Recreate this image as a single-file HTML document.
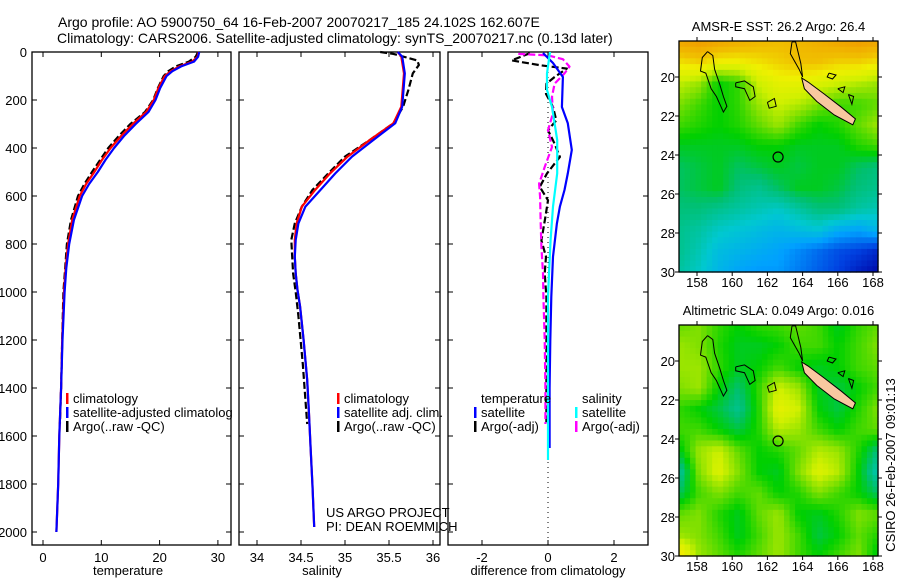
<!DOCTYPE html>
<html><head><meta charset="utf-8">
<style>
body{margin:0;background:#fff;}
svg{display:block;font-family:"Liberation Sans",sans-serif;}
</style></head>
<body>
<svg id="c" width="900" height="580" viewBox="0 0 900 580">
<text x="58" y="27" font-size="14">Argo profile: AO 5900750_64 16-Feb-2007 20070217_185 24.102S 162.607E</text>
<text x="57" y="43" font-size="14">Climatology: CARS2006. Satellite-adjusted climatology: synTS_20070217.nc (0.13d later)</text>
</svg>
<script>
// ---- profile data ----
const depthT = [0,20,40,60,80,100,150,200,250,300,350,400,450,500,550,600,700,800,900,1000,1200,1400,1600,1800,2000];
const tempClim = [26.7,26.5,25.6,23.4,21.9,20.9,19.8,19.0,17.7,15.4,13.4,11.6,10.1,8.8,7.4,6.3,5.0,4.3,3.9,3.6,3.3,3.1,2.8,2.6,2.3];
const tempSat  = [26.8,26.6,25.9,23.7,22.2,21.2,20.1,19.3,18.1,15.9,13.9,12.2,10.7,9.4,7.9,6.7,5.3,4.5,4.0,3.7,3.35,3.1,2.8,2.6,2.3];
const depthArgo = [0,20,40,60,80,100,150,200,250,300,350,400,450,500,550,600,700,800,900,1000,1200,1400,1550];
const tempArgo = [26.6,26.2,25.0,22.8,21.5,20.7,19.7,18.9,17.5,15.0,13.0,11.2,9.8,8.4,7.1,6.0,4.8,4.1,3.8,3.5,3.3,3.1,2.9];

const depthS = [0,19,89,228,297,367,436,506,575,644,714,783,853,922,992,1061,1200,1367,1500,1658,1800,1979];
const salSat  = [35.60,35.65,35.68,35.65,35.57,35.32,35.08,34.89,34.72,34.55,34.47,34.44,34.43,34.44,34.46,34.49,34.53,34.57,34.59,34.61,34.63,34.65];
const salClim = [35.60,35.64,35.67,35.64,35.55,35.28,35.03,34.83,34.66,34.51,34.45,34.43,34.43,34.44,34.46,34.49,34.53,34.57,34.59,34.61,34.63,34.65];
const depthSA = [0,8,35,54,89,158,228,297,367,436,506,575,644,714,783,853,922,1000,1100,1300,1550];
const salArgo = [35.40,35.55,35.82,35.84,35.77,35.72,35.66,35.55,35.28,35.00,34.81,34.63,34.51,34.43,34.39,34.40,34.41,34.44,34.47,34.52,34.57];

const depthD = [4,46,104,229,297,408,506,575,644,714,853,1020,1200,1400,1650];
const diffTSat = [-0.15,0.15,0.45,0.42,0.60,0.72,0.60,0.50,0.36,0.27,0.15,0.10,0.07,0.05,0.05];
const depthDS = [0,89,158,229,297,367,506,644,783,922,1020,1200,1400,1700];
const diffSSat = [0.06,-0.03,-0.03,0.12,0.20,0.28,0.28,0.15,0.08,0.03,0.0,0.0,0.0,0.0];
const depthDA = [5,35,55,69,104,132,174,229,285,326,382,437,506,562,618,687,785,853,922,1020,1200,1400,1550];
const diffTArgo = [-0.55,-1.1,-0.25,0.57,0.2,-0.05,-0.06,0.15,0.25,0.0,0.2,0.36,-0.03,-0.25,0.0,-0.08,-0.2,-0.06,-0.1,-0.05,-0.05,-0.05,-0.05];
const depthDM = [8,14,30,61,89,132,186,255,326,396,479,549,604,714,811,922,1020,1200,1400,1550];
const diffSArgo = [-0.9,0.0,0.45,0.65,0.5,0.2,0.12,0.15,0.0,0.12,-0.1,-0.27,-0.24,-0.22,-0.2,-0.15,-0.14,-0.1,-0.08,-0.08];

const depthTicks = [0,200,400,600,800,1000,1200,1400,1600,1800,2000];
const tempTicks = [0,10,20,30];
const salTicks = [34,34.5,35,35.5,36];
const diffTicks = [-2,0,2];
const lonTicks = [158,160,162,164,166,168];
const latTicks = [-20,-22,-24,-26,-28,-30];

// ---- map grids (normalized colour values, rows north->south) ----
const sstGrid = [
[0.84,0.86,0.84,0.82,0.80,0.79,0.80,0.82,0.84,0.86,0.84],
[0.74,0.76,0.72,0.72,0.74,0.76,0.78,0.78,0.76,0.76,0.74],
[0.65,0.62,0.52,0.55,0.66,0.70,0.70,0.68,0.66,0.64,0.62],
[0.60,0.56,0.52,0.55,0.62,0.66,0.64,0.60,0.56,0.56,0.58],
[0.56,0.54,0.52,0.54,0.58,0.62,0.56,0.52,0.54,0.58,0.62],
[0.50,0.50,0.50,0.50,0.52,0.52,0.50,0.50,0.50,0.54,0.56],
[0.46,0.48,0.50,0.46,0.48,0.50,0.48,0.50,0.50,0.46,0.44],
[0.46,0.48,0.50,0.44,0.42,0.46,0.50,0.50,0.48,0.44,0.42],
[0.44,0.44,0.42,0.40,0.38,0.36,0.40,0.44,0.44,0.40,0.38],
[0.42,0.40,0.36,0.34,0.32,0.30,0.32,0.34,0.28,0.26,0.30],
[0.42,0.38,0.32,0.30,0.28,0.26,0.22,0.18,0.14,0.12,0.08],
[0.40,0.36,0.30,0.26,0.24,0.24,0.20,0.16,0.12,0.06,0.02]];
const slaGrid = [
[0.58,0.60,0.55,0.52,0.55,0.56,0.58,0.56,0.50,0.55,0.58],
[0.62,0.60,0.54,0.50,0.50,0.52,0.56,0.56,0.52,0.56,0.60],
[0.62,0.62,0.55,0.50,0.52,0.56,0.52,0.50,0.52,0.56,0.58],
[0.60,0.62,0.52,0.45,0.55,0.66,0.62,0.50,0.48,0.52,0.56],
[0.55,0.52,0.48,0.42,0.54,0.70,0.66,0.52,0.48,0.54,0.60],
[0.56,0.56,0.52,0.48,0.54,0.64,0.62,0.56,0.52,0.56,0.58],
[0.50,0.62,0.66,0.58,0.52,0.54,0.58,0.64,0.62,0.54,0.44],
[0.40,0.60,0.68,0.60,0.52,0.50,0.60,0.68,0.64,0.52,0.38],
[0.46,0.56,0.60,0.56,0.58,0.52,0.54,0.60,0.56,0.52,0.46],
[0.58,0.60,0.54,0.50,0.58,0.62,0.52,0.50,0.54,0.60,0.58],
[0.62,0.60,0.56,0.50,0.56,0.62,0.56,0.48,0.52,0.58,0.54],
[0.76,0.62,0.58,0.54,0.58,0.62,0.56,0.52,0.56,0.60,0.50]];
const argoLon = 162.607, argoLat = -24.102;

const NS='http://www.w3.org/2000/svg';
const svg=document.getElementById('c');
function mk(tag,attrs,parent){const e=document.createElementNS(NS,tag);for(const k in attrs)e.setAttribute(k,attrs[k]);(parent||svg).appendChild(e);return e;}

const TOP=52, BOT=545, DS=0.24;
const yD=d=>TOP+d*DS;
const xT=t=>43+t*5.83;
const xS=s=>257+(s-34)*88;
const xDf=v=>548+v*33;

function panel(name,x0,x1){
  const r=mk('rect',{x:x0,y:TOP,width:x1-x0,height:BOT-TOP,fill:'#fff',stroke:'#000','stroke-width':1.3});
  
  
  for(const d of depthTicks){
    const y=yD(d);
    const t1=mk('line',{x1:x0,x2:x0+5,y1:y,y2:y,stroke:'#000'});
    
    
    const t2=mk('line',{x1:x1-5,x2:x1,y1:y,y2:y,stroke:'#000'});
    
    
  }
}
function xticks(ticks,fx,x0,x1,title,tx){
  for(const v of ticks){
    const x=fx(v);
    const a=mk('line',{x1:x,x2:x,y1:TOP,y2:TOP+5,stroke:'#000'});
    
    
    const b=mk('line',{x1:x,x2:x,y1:BOT-5,y2:BOT,stroke:'#000'});
    
    
    const l=mk('text',{x:x,y:BOT+17,'font-size':13,'text-anchor':'middle'});
    l.textContent=String(v);
    
    
  }
  const t=mk('text',{x:tx,y:BOT+30,'font-size':13,'text-anchor':'middle'});
  t.textContent=title;
  
  
}
function line(xs,ds,fx,color,w,dash,name){
  const pts=xs.map((v,i)=>fx(v).toFixed(1)+','+yD(ds[i]).toFixed(1)).join(' ');
  const p=mk('polyline',{points:pts,fill:'none',stroke:color,'stroke-width':w,'stroke-linejoin':'round'});
  if(dash)p.setAttribute('stroke-dasharray',dash);
  
  
}
function legend(x,y,items){
  items.forEach((it,i)=>{
    const yy=y+i*14;
    if(it.c){
      const m=mk('rect',{x:x,y:yy-10,width:2.5,height:11,fill:it.c});
      
      
    }
    const t=mk('text',{x:x+7,y:yy,'font-size':13});
    t.textContent=it.t;
    
    
  });
}

// Panel 1 temperature
panel('temperature-panel',32,231);
for(const d of depthTicks){
  const l=mk('text',{x:27,y:yD(d)+5,'font-size':13,'text-anchor':'end'});
  l.textContent=String(d);
  
  
}
xticks(tempTicks,xT,32,231,'temperature',128);
line(tempArgo,depthArgo,xT,'#000',2.2,'7,3','temperature-argo-line');
line(tempClim,depthT,xT,'#f00',2.2,null,'temperature-climatology-line');
line(tempSat,depthT,xT,'#00f',2.2,null,'temperature-satellite-line');
legend(66,403,[{c:'#f00',t:'climatology'},{c:'#00f',t:'satellite-adjusted climatology'},{c:'#000',t:'Argo(..raw -QC)'}]);

// Panel 2 salinity (covers overflowing legend text)
mk('rect',{x:232,y:TOP,width:7,height:BOT-TOP,fill:'#fff'});
panel('salinity-panel',239,440);
xticks(salTicks,xS,239,440,'salinity',322);
line(salArgo,depthSA,xS,'#000',2.2,'7,3','salinity-argo-line');
line(salClim,depthS,xS,'#f00',2.2,null,'salinity-climatology-line');
line(salSat,depthS,xS,'#00f',2.2,null,'salinity-satellite-line');

// Panel 3 differences
mk('rect',{x:441,y:TOP,width:7,height:BOT-TOP,fill:'#fff'});
panel('difference-panel',448,648);
xticks(diffTicks,xDf,448,648,'difference from climatology',548);
const zl=mk('line',{x1:xDf(0),x2:xDf(0),y1:TOP,y2:BOT,stroke:'#000','stroke-dasharray':'1,4'});


line(diffTArgo,depthDA,xDf,'#000',2.2,'7,3','temperature-argo-difference');
line(diffSArgo,depthDM,xDf,'#f0f',2.2,'7,3','salinity-argo-difference');
line(diffTSat,depthD,xDf,'#00f',2.2,null,'temperature-satellite-difference');
line(diffSSat,depthDS,xDf,'#0ff',2.2,null,'salinity-satellite-difference');
legend(474,403,[{t:'temperature'},{c:'#00f',t:'satellite'},{c:'#000',t:'Argo(-adj)'}]);
legend(575,403,[{t:'salinity'},{c:'#0ff',t:'satellite'},{c:'#f0f',t:'Argo(-adj)'}]);

// salinity legends drawn last so they overflow onto next panel
legend(337,403,[{c:'#f00',t:'climatology'},{c:'#00f',t:'satellite adj. clim.'},{c:'#000',t:'Argo(..raw -QC)'}]);
legend(319,517,[{t:'US ARGO PROJECT'},{t:'PI: DEAN ROEMMICH'}]);

// ---- maps ----
const stops=[[0,[0,0,160]],[0.12,[0,64,224]],[0.25,[0,160,255]],[0.35,[0,200,208]],[0.45,[0,192,112]],[0.52,[0,208,0]],[0.6,[128,224,0]],[0.66,[208,240,0]],[0.72,[240,240,0]],[0.78,[240,192,0]],[0.85,[240,160,0]],[1,[224,96,0]]];
function cmap(v){
  v=Math.max(0,Math.min(1,v));
  for(let i=1;i<stops.length;i++){
    if(v<=stops[i][0]){
      const a=stops[i-1],b=stops[i],f=(v-a[0])/(b[0]-a[0]);
      const c=a[1].map((q,k)=>Math.round(q+(b[1][k]-q)*f));
      return 'rgb('+c.join(',')+')';
    }
  }
  return 'rgb(224,96,0)';
}
function map(name,grid,y0,y1,title,latRef){
  const X0=679,X1=878;
  const lonX=l=>697+(l-158)*17.6;
  const latY=la=>latRef+(-20-la)*19.5;
  const g=mk('g',{});
  
  
  const R=grid.length,C=grid[0].length;
  const NX=36,NY=40,cw=(X1-X0)/NX,ch=(y1-y0)/NY;
  for(let j=0;j<NY;j++)for(let i=0;i<NX;i++){
    const gx=(i+0.5)/NX*(C-1),gy=(j+0.5)/NY*(R-1);
    const ix=Math.min(C-2,Math.floor(gx)),iy=Math.min(R-2,Math.floor(gy));
    const fx=gx-ix,fy=gy-iy;
    const v=grid[iy][ix]*(1-fx)*(1-fy)+grid[iy][ix+1]*fx*(1-fy)+grid[iy+1][ix]*(1-fx)*fy+grid[iy+1][ix+1]*fx*fy;
    const r=mk('rect',{x:(X0+i*cw).toFixed(2),y:(y0+j*ch).toFixed(2),width:(cw+0.6).toFixed(2),height:(ch+0.6).toFixed(2),fill:cmap(v)},g);
    
    
  }
  const P=pts=>pts.map(p=>lonX(p[0]).toFixed(1)+','+latY(p[1]).toFixed(1)).join(' ');
  const reefs=[
    [[158.6,-18.7],[158.9,-18.9],[159.0,-19.6],[159.3,-20.4],[159.5,-21.0],[159.7,-21.5],[159.5,-21.8],[159.1,-21.0],[158.8,-20.6],[158.5,-19.8],[158.2,-19.7],[158.3,-19.0]],
    [[160.2,-20.3],[160.7,-20.2],[161.2,-20.5],[161.3,-21.0],[161.0,-21.2],[160.7,-20.6],[160.2,-20.5]],
    [[162.0,-21.3],[162.4,-21.1],[162.5,-21.5],[162.1,-21.6]],
    [[163.4,-18.2],[163.3,-18.8],[163.8,-19.6],[164.0,-20.0],[163.9,-19.3],[163.6,-18.2]],
    [[165.5,-19.8],[165.9,-19.9],[165.7,-20.1],[165.4,-20.0]],
    [[166.0,-20.6],[166.4,-20.5],[166.3,-20.8]],
    [[166.6,-20.9],[166.9,-21.0],[166.8,-21.4]]
  ];
  reefs.forEach(r=>{const p=mk('polyline',{points:P(r.concat([r[0]])),fill:'none',stroke:'#000','stroke-width':1},g);
    
    });
  const nc=mk('polygon',{points:P([[163.95,-20.05],[164.3,-20.25],[165.2,-20.85],[166.2,-21.55],[167.0,-22.15],[166.85,-22.45],[165.8,-21.95],[164.8,-21.25],[164.1,-20.6]]),fill:'#f8c8a0',stroke:'#000','stroke-width':1},g);
  
  
  const ci=mk('circle',{cx:lonX(argoLon),cy:latY(argoLat),r:5,fill:'none',stroke:'#000','stroke-width':1.2},g);
  
  
  const fr=mk('rect',{x:X0,y:y0,width:X1-X0,height:y1-y0,fill:'none',stroke:'#000','stroke-width':1.3});
  
  
  for(const l of lonTicks){
    const x=lonX(l);
    const a=mk('line',{x1:x,x2:x,y1:y0-4,y2:y0,stroke:'#000'});
    
    
    const b=mk('line',{x1:x,x2:x,y1:y1,y2:y1+4,stroke:'#000'});
    
    
    const t=mk('text',{x:x,y:y1+15,'font-size':13,'text-anchor':'middle'});
    t.textContent=String(l);
    
    
  }
  for(const la of latTicks){
    const y=latY(la);
    const a=mk('line',{x1:X0-4,x2:X0,y1:y,y2:y,stroke:'#000'});
    
    
    const b=mk('line',{x1:X1,x2:X1+4,y1:y,y2:y,stroke:'#000'});
    
    
    const t=mk('text',{x:X0-4,y:y+5,'font-size':13,'text-anchor':'end'});
    t.textContent=String(-la);
    
    
  }
  const tt=mk('text',{x:(X0+X1)/2,y:y0-10,'font-size':13,'text-anchor':'middle'});
  tt.textContent=title;
  
  
}
map('sst-map',sstGrid,41,272,'AMSR-E SST: 26.2 Argo: 26.4',77);
map('sla-map',slaGrid,325,556,'Altimetric SLA: 0.049 Argo: 0.016',361);
const side=mk('text',{x:0,y:0,'font-size':13,'text-anchor':'middle',transform:'translate(895,465) rotate(-90)'});
side.textContent='CSIRO 26-Feb-2007 09:01:13';


</script>
</body></html>
